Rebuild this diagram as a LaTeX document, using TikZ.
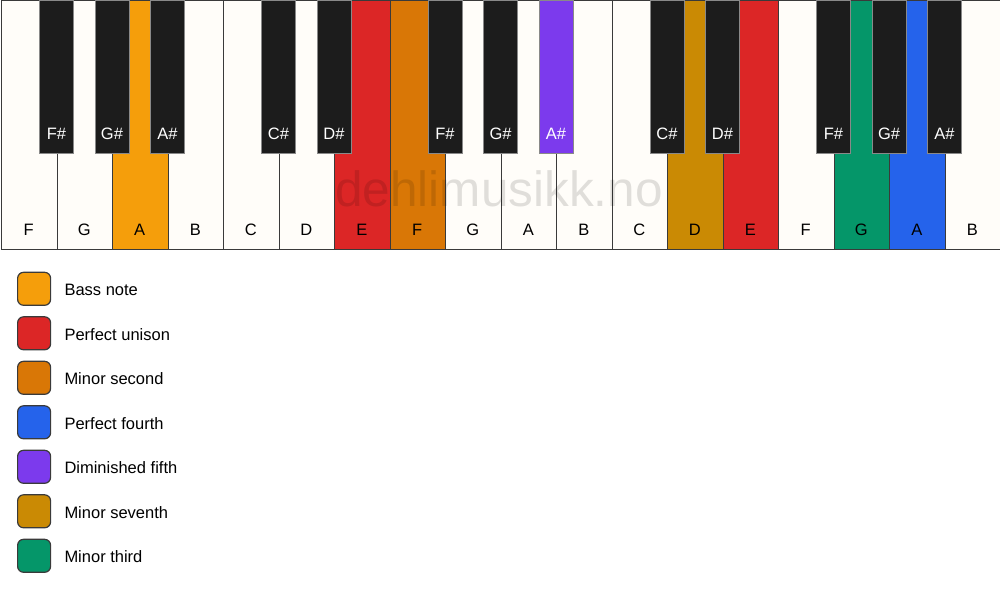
\documentclass[tikz,border=0pt]{standalone}
\usepackage{fontspec}
\setmainfont{Liberation Sans}
\usetikzlibrary{positioning}
\definecolor{keywhite}{HTML}{FFFDF9}
\definecolor{keyblack}{HTML}{1C1C1C}
\definecolor{keyline}{HTML}{3A3A3A}
\definecolor{bassnote}{HTML}{F59E0B}
\definecolor{unison}{HTML}{DC2626}
\definecolor{minsecond}{HTML}{D97706}
\definecolor{perfourth}{HTML}{2563EB}
\definecolor{dimfifth}{HTML}{7C3AED}
\definecolor{minseventh}{HTML}{CA8A04}
\definecolor{minthird}{HTML}{059669}

\begin{document}
\begin{tikzpicture}[x=1pt,y=-1pt,
	whitekey/.style={draw=keyline,line width=1pt,inner sep=0pt,anchor=north west,minimum width=55.5pt,minimum height=249pt},
	blackkey/.style={draw=keyline!60,line width=0.8pt,inner sep=0pt,anchor=north,minimum width=34pt,minimum height=153pt},
	keytext/.style={anchor=base,inner sep=0pt,font=\fontsize{16.5}{19}\selectfont},
	swatch/.style={draw=keyline,line width=1.2pt,rounded corners=6pt,minimum size=33pt,inner sep=0pt,anchor=north west},
	legendtext/.style={anchor=base west,inner sep=0pt,font=\fontsize{16.5}{19}\selectfont}]
	\useasboundingbox (0,0) rectangle (1000,594);
	\fill[white] (0,0) rectangle (1000,594);
	% white keys
	\foreach \n/\c [count=\i from 0] in {F/keywhite,G/keywhite,A/bassnote,B/keywhite,C/keywhite,D/keywhite,E/unison,F/minsecond,G/keywhite,A/keywhite,B/keywhite,C/keywhite,D/minseventh,E/unison,F/keywhite,G/minthird,A/perfourth,B/keywhite} {
		\node[whitekey,fill=\c] (w\i) at ({1+55.5*\i},0) {};
		\node[keytext] (wl\i) at ({28.75+55.5*\i},235.5) {\n};
	}
	% watermark
	\node[anchor=base,inner sep=0pt,text=black,opacity=0.12,font=\fontsize{49.5}{56}\selectfont] (mark) at (499,206.5) {dehlimusikk.no};
	% black keys
	\foreach \b/\n/\c [count=\j] in {1/F/keyblack,2/G/keyblack,3/A/keyblack,5/C/keyblack,6/D/keyblack,8/F/keyblack,9/G/keyblack,10/A/dimfifth,12/C/keyblack,13/D/keyblack,15/F/keyblack,16/G/keyblack,17/A/keyblack} {
		\node[blackkey,fill=\c] (b\j) at ({1+55.5*\b},0) {};
		\node[keytext,text=white] (bl\j) at ({1+55.5*\b},139) {\n\#};
	}
	% legend
	\foreach \t/\c [count=\k from 0] in {Bass note/bassnote,Perfect unison/unison,Minor second/minsecond,Perfect fourth/perfourth,Diminished fifth/dimfifth,Minor seventh/minseventh,Minor third/minthird} {
		\node[swatch,fill=\c] (s\k) at (17,{271.7+44.5*\k}) {};
		\node[legendtext] (t\k) at (64.3,{295.5+44.5*\k}) {\t};
	}
\end{tikzpicture}
\end{document}
